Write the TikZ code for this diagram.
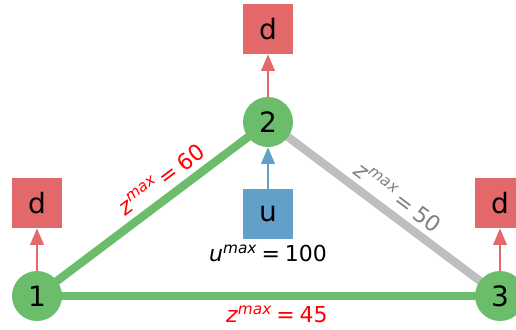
\documentclass[tikz,border=0pt]{standalone}
\usepackage{fontspec}
\setmainfont{DejaVu Sans}
\usetikzlibrary{
  arrows.meta,
  backgrounds,
  positioning
}
\definecolor{busgreen}{HTML}{6BBC6B}
\definecolor{demred}{HTML}{E2686A}
\definecolor{genblue}{HTML}{62A0CA}
\definecolor{linegrey}{HTML}{BFBFBF}
\definecolor{labelgrey}{HTML}{808080}
\definecolor{labelred}{HTML}{FF0000}
\newcommand{\maxlabel}[2]{%
  \textit{#1}\raisebox{0.38em}{\fontsize{11.5pt}{14pt}\selectfont\textit{max}}%
  \hspace{0.22em}=\hspace{0.22em}#2}
\tikzset{
  bus/.style={
    circle,
    fill=busgreen,
    minimum size=37.5pt,
    inner sep=0pt,
    font=\fontsize{21pt}{25pt}\selectfont
  },
  demand/.style={
    rectangle,
    fill=demred,
    minimum size=37.5pt,
    inner sep=0pt,
    font=\fontsize{21pt}{25pt}\selectfont
  },
  generator/.style={
    demand,
    fill=genblue
  },
  linebusy/.style={
    line width=6.2pt,
    draw=busgreen
  },
  linefree/.style={
    line width=6.2pt,
    draw=linegrey
  },
  demflow/.style={
    -{Triangle[length=12.5pt, width=10pt]},
    line width=2pt,
    draw=demred
  },
  genflow/.style={
    -{Triangle[length=12.5pt, width=10pt]},
    line width=2pt,
    draw=genblue
  },
  caplabel/.style={
    inner sep=0pt,
    font=\fontsize{16.5pt}{20pt}\selectfont
  }
}
\begin{document}
\begin{tikzpicture}[x=0.75pt, y=-0.75pt]
  \useasboundingbox (0,0) rectangle (516,329);
  % Buses.
  \node[bus] (n1) at (37,296) {1};
  \node[bus] (n2) at (268,122) {2};
  \node[bus] (n3) at (500,296) {3};
  % Demands and generator.
  \node[demand] (d1) at (37,203) {d};
  \node[demand] (d2) at (268,29) {d};
  \node[demand] (d3) at (500,203) {d};
  \node[generator] (u) at (268,214) {u};
  \node[caplabel, below=4pt of u] (ucap) {\maxlabel{u}{100}};
  \draw[demflow] (n1) -- (d1);
  \draw[demflow] (n2) -- (d2);
  \draw[demflow] (n3) -- (d3);
  \draw[genflow] (u) -- (n2);

  % Lines behind the buses.
  \begin{scope}[on background layer]
    \draw[linebusy] (n1.center) -- (n2.center)
      node[caplabel, text=labelred, pos=0.585, sloped, above=4.5pt]
      (cap12) {\maxlabel{z}{60}};
    \draw[linefree] (n2.center) -- (n3.center)
      node[caplabel, text=labelgrey, pos=0.515, sloped, above=4pt]
      (cap23) {\maxlabel{z}{50}};
    \draw[linebusy] (n1.center) -- (n3.center)
      node[caplabel, text=labelred, pos=0.518, below=4pt]
      (cap13) {\maxlabel{z}{45}};
  \end{scope}
\end{tikzpicture}
\end{document}
